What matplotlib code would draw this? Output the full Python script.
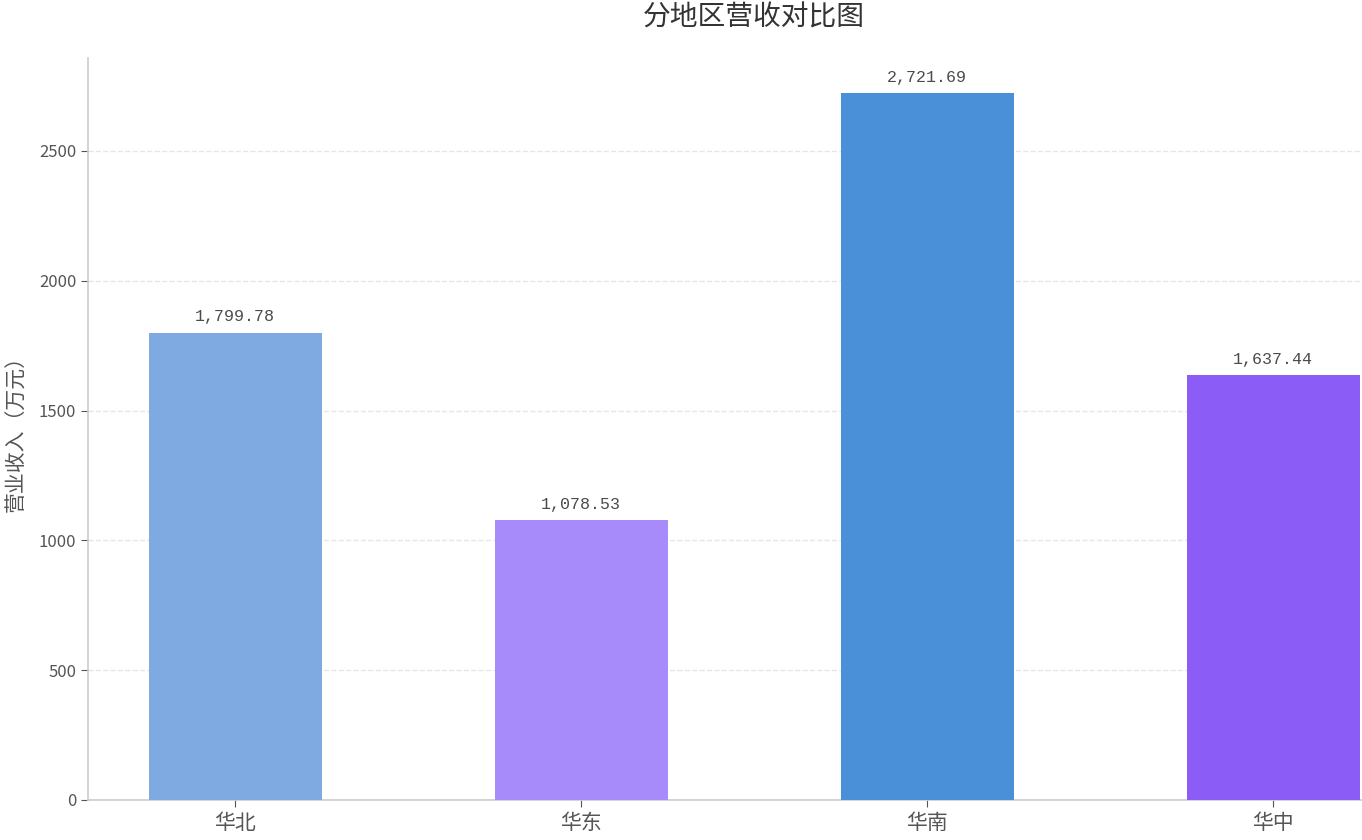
import matplotlib
matplotlib.use("Agg")
import matplotlib.pyplot as plt

plt.rcParams['font.family'] = ['Noto Sans CJK SC', 'DejaVu Sans']
plt.rcParams['axes.unicode_minus'] = False

regions = ['华北', '华东', '华南', '华中']
revenue = [1799.78, 1078.53, 2721.69, 1637.44]
colors = ['#7EA9E1', '#A78BFA', '#4A90D9', '#8B5CF6']

fig = plt.figure(figsize=(13.62, 8.4), dpi=100)
ax = fig.add_axes([88/1362, 40/840, (1362-88)/1362, (800-58)/840])

x = list(range(len(regions)))
ax.bar(x, revenue, width=0.5, color=colors, zorder=3)
for xi, v in zip(x, revenue):
    ax.annotate(f'{v:,.2f}', (xi, v), xytext=(0, 6), textcoords='offset points',
                ha='center', va='bottom', fontsize=12, color='#4a4a4a',
                family=['Liberation Mono', 'DejaVu Sans Mono'])

ax.set_xticks(x)
ax.set_xticklabels(regions, fontsize=15, color='#555555')
ax.set_xlim(-0.425, 3.257)
ax.set_ylim(0, max(revenue) * 1.05)
ax.set_yticks([0, 500, 1000, 1500, 2000, 2500])
ax.tick_params(axis='y', labelsize=12, colors='#555555', length=5)
ax.tick_params(axis='x', colors='#555555', length=5)
ax.set_ylabel('营业收入（万元）', fontsize=15, color='#555555', labelpad=8)
fig.text(754/1362, 1 - 18/840, '分地区营收对比图', fontsize=20, color='#333333',
         ha='center', va='center')

for s in ['top', 'right']:
    ax.spines[s].set_visible(False)
for s in ['left', 'bottom']:
    ax.spines[s].set_color('#cccccc')
    ax.spines[s].set_linewidth(1.2)
ax.yaxis.grid(True, linestyle='--', color='#e6e6e6', linewidth=1, zorder=0)
ax.set_axisbelow(True)

fig.savefig('out.png', dpi=100)
